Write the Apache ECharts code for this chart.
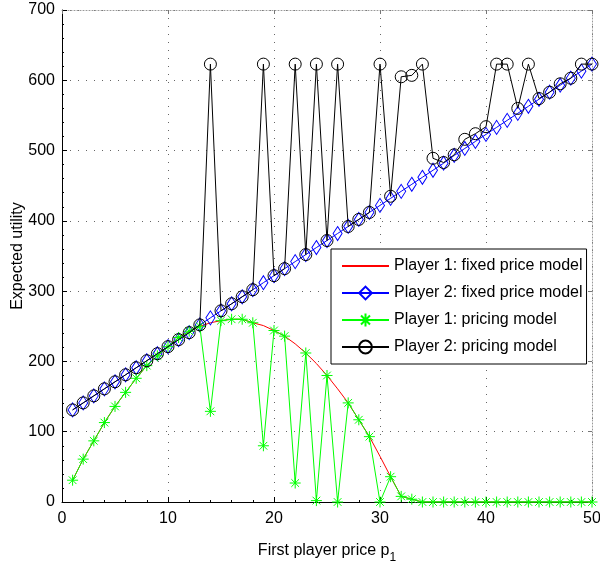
<!DOCTYPE html>
<html>
<head>
<meta charset="utf-8">
<script src="https://cdn.jsdelivr.net/npm/echarts@6/dist/echarts.min.js"></script>
<style>html,body{margin:0;padding:0;background:#fff}#c{width:600px;height:563px}</style>
</head>
<body>
<div id="c"></div>
<script>
var prices = [1,2,3,4,5,6,7,8,9,10,11,12,13,14,15,16,17,18,19,20,21,22,23,24,25,26,27,28,29,30,31,32,33,34,35,36,37,38,39,40,41,42,43,44,45,46,47,48,49,50];
var p1Fixed = [31,61,87,113,136,156,176,194,208,221,234,243,250,255,258,260,260,255,251,244,236,225,212,197,180,161,141,117,93,65,36,8,4,0,0,0,0,0,0,0,0,0,0,0,0,0,0,0,0,0];
var p2Fixed = [131,141,151,161,171,181,191,201,211,221,231,241,252,262,272,282,292,302,312,322,332,342,352,362,372,382,392,402,412,422,432,442,452,462,472,482,493,503,513,523,533,543,553,563,573,583,593,603,613,623];
var p1Pricing = [31,61,87,113,136,156,176,194,208,221,234,243,250,129,258,260,260,255,80,244,236,27,212,2,180,0,141,117,93,0,36,8,4,0,0,0,0,0,0,0,0,0,0,0,0,0,0,0,0,0];
var p2Pricing = [131,141,151,161,171,181,191,201,211,221,231,241,252,623,272,282,292,302,623,322,332,623,352,623,372,623,392,402,412,623,435,605,607,623,489,483,494,516,524,534,623,623,560,623,574,583,595,603,623,623];
var seriesNames = ['Player 1: fixed price model','Player 2: fixed price model','Player 1: pricing model','Player 2: pricing model'];
var xTicks = [0,10,20,30,40,50];
var yTicks = [0,100,200,300,400,500,600,700];

function pairs(ys){ return prices.map(function(x,i){ return [x, ys[i]]; }); }

var FONT = '"Liberation Sans", Arial, sans-serif';
var FS = 16;
var star = 'path://M0,-10L0,10M-10,0L10,0M-7,-7L7,7M-7,7L7,-7';
var dotted = {color:'#666', width:1, type:[1,7]};

var chart = echarts.init(document.getElementById('c'), null, {renderer:'canvas'});
chart.setOption({
  animation:false,
  backgroundColor:'#fff',
  textStyle:{fontFamily:FONT},
  grid:{left:62, right:8, top:10, bottom:61, containLabel:false, outerBoundsMode:'none'},
  legend:{
    orient:'vertical', left:331, top:249,
    backgroundColor:'#fff', borderColor:'#000', borderWidth:1, borderRadius:0,
    padding:[9,4,9,10], itemGap:11, itemWidth:47, itemHeight:16,
    textStyle:{fontFamily:FONT, fontSize:FS, color:'#000'},
    data:[
      {name:seriesNames[0], itemStyle:{opacity:0}},
      {name:seriesNames[1]},
      {name:seriesNames[2]},
      {name:seriesNames[3]}
    ]
  },
  xAxis:[{
    type:'value', min:0, max:50, interval:10,
    name:'First player price p{s|1}', nameLocation:'middle', nameGap:36,
    nameTextStyle:{fontFamily:FONT, fontSize:FS, color:'#000', rich:{s:{fontFamily:FONT, fontSize:12, color:'#000', padding:[14,0,0,0]}}},
    axisLine:{show:true, onZero:false, lineStyle:{color:'#000', width:1}},
    axisTick:{show:true, inside:true, length:5, lineStyle:{color:'#000'}},
    minorTick:{show:true, splitNumber:5, length:2, lineStyle:{color:'#000'}},
    axisLabel:{fontFamily:FONT, fontSize:FS, color:'#000', margin:9, formatter:function(v){return xTicks.indexOf(v)>=0? String(v):'';}},
    splitLine:{show:true, lineStyle:dotted}
  },{
    type:'value', min:0, max:50, interval:10, position:'top',
    axisLine:{show:true, onZero:false, lineStyle:{color:'#999', width:1, type:[1,2]}},
    axisTick:{show:true, inside:true, length:4, lineStyle:{color:'#777'}},
    axisLabel:{show:false}, splitLine:{show:false}
  }],
  yAxis:[{
    type:'value', min:0, max:700, interval:100,
    name:'Expected utility', nameLocation:'middle', nameGap:36, nameMoveOverlap:false,
    nameTextStyle:{fontFamily:FONT, fontSize:FS, color:'#000'},
    axisLine:{show:true, onZero:false, lineStyle:{color:'#000', width:1}},
    axisTick:{show:true, inside:true, length:5, lineStyle:{color:'#000'}},
    minorTick:{show:true, splitNumber:5, length:2, lineStyle:{color:'#000'}},
    axisLabel:{fontFamily:FONT, fontSize:FS, color:'#000', margin:7, formatter:function(v){return yTicks.indexOf(v)>=0? String(v):'';}},
    splitLine:{show:true, lineStyle:dotted}
  },{
    type:'value', min:0, max:700, interval:100, position:'right',
    axisLine:{show:true, onZero:false, lineStyle:{color:'#999', width:1, type:[1,2]}},
    axisTick:{show:true, inside:true, length:4, lineStyle:{color:'#777'}},
    axisLabel:{show:false}, splitLine:{show:false}
  }],
  series:[
    {name:seriesNames[0], type:'line', data:pairs(p1Fixed), showSymbol:false, symbol:'none',
     lineStyle:{color:'#ff0000', width:1}, itemStyle:{color:'#ff0000'}, z:2},
    {name:seriesNames[1], type:'line', data:pairs(p2Fixed), symbol:'diamond', symbolSize:[9,14],
     lineStyle:{color:'#0000ff', width:1}, itemStyle:{color:'rgba(0,0,0,0)', borderColor:'#0000ff', borderWidth:1}, z:3},
    {name:seriesNames[2], type:'line', data:pairs(p1Pricing), symbol:star, symbolSize:11,
     lineStyle:{color:'#00ff00', width:1}, itemStyle:{color:'rgba(0,0,0,0)', borderColor:'#00ff00', borderWidth:1}, z:4},
    {name:seriesNames[3], type:'line', data:pairs(p2Pricing), symbol:'circle', symbolSize:12,
     lineStyle:{color:'#000000', width:1}, itemStyle:{color:'rgba(0,0,0,0)', borderColor:'#000000', borderWidth:1}, z:5}
  ]
});
</script>
</body>
</html>
